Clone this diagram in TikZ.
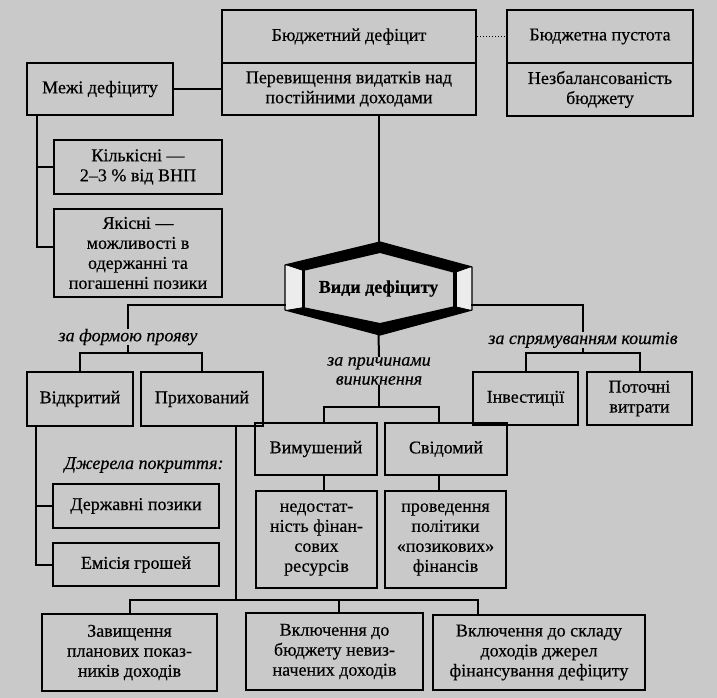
\documentclass[tikz,border=0pt]{standalone}
\usepackage{fontspec}
\setmainfont{Liberation Serif}[FakeBold=0.4]
\usetikzlibrary{positioning,calc}

\definecolor{tlo}{RGB}{201,201,201}
\definecolor{svitla}{RGB}{236,236,236}

\tikzset{
	blok/.style={draw, line width=2pt, inner sep=1pt, align=center,
		font=\fontsize{18}{20}\selectfont},
	napys/.style={inner sep=1pt, align=center,
		font=\fontsize{18}{19}\selectfont\itshape},
	zvjazok/.style={line width=2pt},
}

\begin{document}
\begin{tikzpicture}[x=1pt,y=-1pt,line cap=rect]
	% draw the background
	\fill[tlo] (0,0) rectangle (717,698);
	\useasboundingbox (0,0) rectangle (717,698);

	% the budget deficit and its definition
	\node[blok, minimum width=254, minimum height=53] (defic) at (349,36.5) {Бюджетний дефіцит};
	\node[blok, minimum width=254, minimum height=52] (perev) at (349,89) {Перевищення видатків над\\постійними доходами};
	\node[blok, minimum width=186, minimum height=53] (pust) at (600,36.5) {Бюджетна пустота};
	\node[blok, minimum width=186, minimum height=53] (nezb) at (600,89.5) {Незбалансованість\\бюджету};
	\draw[line width=1pt, dotted, line cap=butt] (defic.east) -- (pust.west);

	% the limits of the deficit
	\node[blok, minimum width=146, minimum height=52] (mezhi) at (100,89) {Межі дефіциту};
	\node[blok, minimum width=168, minimum height=54] (kilk) at (138,167) {Кількісні —\\2–3 \% від ВНП};
	\node[blok, minimum width=168, minimum height=88] (yakis) at (138,253) {Якісні —\\можливості в\\одержанні та\\погашенні позики};
	\draw[zvjazok] (mezhi.east) -- (perev.west);
	\foreach \n/\s in {kilk/0, yakis/6}
		\draw[zvjazok] ([xshift=11pt]mezhi.south west) |- ([yshift=\s pt]\n.west);

	% draw the hexagon
	\foreach \n/\x/\y in {o1/285/265, o2/380/242, o3/472/267, o4/472/310, o5/380/335, o6/285/310,
	                      i1/303/271, i2/380/253, i3/455/273, i4/455/306, i5/380/323, i6/303/307}
		\coordinate (\n) at (\x,\y);
	\fill[black] (o1) -- (o2) -- (o3) -- (i3) -- (i2) -- (i1) -- cycle;
	\fill[black] (o6) -- (o5) -- (o4) -- (i4) -- (i5) -- (i6) -- cycle;
	\fill[svitla] (o1) -- (i1) -- (i6) -- (o6) -- cycle;
	\fill[svitla] (o3) -- (i3) -- (i4) -- (o4) -- cycle;
	\draw[line width=1.2pt, line join=round] (o1) -- (o2) -- (o3) -- (o4) -- (o5) -- (o6) -- cycle;
	\draw[line width=3pt] (i1) -- (i6);
	\draw[line width=4pt] (i3) -- (i4);
	\node[inner sep=0, minimum width=187, minimum height=93,
		font=\fontsize{18}{20}\selectfont\bfseries] (vydy) at (378.5,288.5) {Види дефіциту};
	\draw[zvjazok] (perev.south -| vydy.north) -- (vydy.north);
	\coordinate (vl) at ([yshift=-16.5pt]vydy.west);
	\coordinate (vr) at ([yshift=-16.5pt]vydy.east);

	% by the form
	\node[napys] (forma) at (128,337) {за формою прояву};
	\node[blok, minimum width=106, minimum height=54] (vidkr) at (80,399) {Відкритий};
	\node[blok, minimum width=122, minimum height=54] (prykh) at (202,399) {Прихований};
	\coordinate (fvuz) at (128,353);
	\draw[zvjazok] (vl) -| (forma.north);
	\draw[zvjazok] (forma.south) -- (fvuz);
	\draw[zvjazok] (vidkr.north) |- (fvuz) -| (prykh.north);

	% sources of covering
	\node[napys] (dzher) at (144,465) {Джерела покриття:};
	\node[blok, minimum width=166, minimum height=44] (derzh) at (136,506) {Державні позики};
	\node[blok, minimum width=166, minimum height=43] (emis) at (136,564.5) {Емісія грошей};
	\foreach \n in {derzh, emis}
		\draw[zvjazok] ([xshift=10pt]vidkr.south west) |- (\n.west);

	% by the causes
	\node[napys] (prych) at (379,371) {за причинами\\виникнення};
	\node[blok, minimum width=122, minimum height=52] (vymush) at (316,449) {Вимушений};
	\node[blok, minimum width=122, minimum height=52] (svid) at (446,449) {Свідомий};
	\node[blok, minimum width=121, minimum height=97] (nedost) at (316.5,539.5) {недостат-\\ність фінан-\\сових\\ресурсів};
	\node[blok, minimum width=121, minimum height=97] (proved) at (445.5,539.5) {проведення\\політики\\«позикових»\\фінансів};
	\coordinate (pvuz) at (379,407);
	\draw[zvjazok] (vydy.south) -- (prych.north);
	\draw[zvjazok] (prych.south) -- (pvuz);
	\draw[zvjazok] ([xshift=8pt]vymush.north) |- (pvuz) -| ([xshift=-7pt]svid.north);
	\draw[zvjazok] ([xshift=8pt]vymush.south) -- ([xshift=7.5pt]nedost.north);
	\draw[zvjazok] ([xshift=-7pt]svid.south) -- ([xshift=-6.5pt]proved.north);

	% by the direction of funds
	\node[napys] (koshty) at (583,340) {за спрямуванням коштів};
	\node[blok, minimum width=105, minimum height=53] (invest) at (525.5,398.5) {Інвестиції};
	\node[blok, minimum width=105, minimum height=53] (potoch) at (639.5,398.5) {Поточні\\витрати};
	\coordinate (kvuz) at (583,353);
	\draw[zvjazok] (vr) -| (koshty.north);
	\draw[zvjazok] (koshty.south) -- (kvuz);
	\draw[zvjazok] (invest.north) |- (kvuz) -| (potoch.north);

	% the forms of the hidden deficit
	\node[blok, minimum width=175, minimum height=77] (zavysh) at (129.5,652.5) {Завищення\\планових показ-\\ників доходів};
	\node[blok, minimum width=177, minimum height=77] (vkl1) at (334.5,651.5) {Включення до\\бюджету невиз-\\начених доходів};
	\node[blok, minimum width=212, minimum height=75] (vkl2) at (539,652.5) {Включення до складу\\доходів джерел\\фінансування дефіциту};
	\coordinate (dvuz) at (236,600);
	\coordinate (v1) at ([xshift=4.5pt]vkl1.north);
	\coordinate (v2) at ([xshift=-61pt]vkl2.north);
	\draw[zvjazok] ([xshift=34pt]prykh.south) -- (dvuz);
	\draw[zvjazok] (zavysh.north) |- (v2 |- dvuz) -- (v2);
	\draw[zvjazok] (v1 |- dvuz) -- (v1);
\end{tikzpicture}
\end{document}
